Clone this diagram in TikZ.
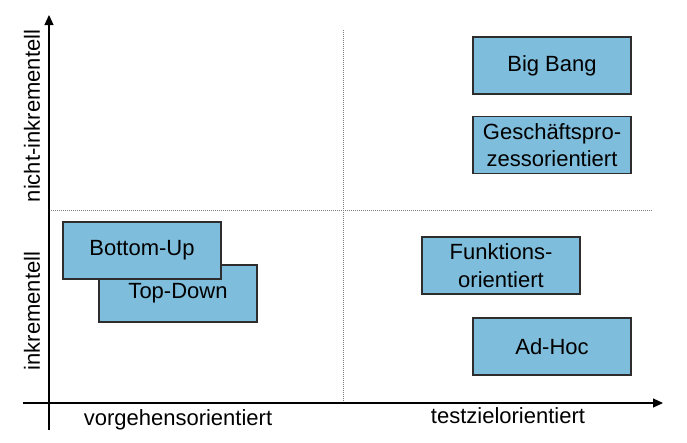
\documentclass[tikz,border=0pt]{standalone}
\usepackage{fontspec}
\setmainfont{Liberation Sans}
\usetikzlibrary{arrows.meta}
\definecolor{boxfill}{RGB}{127,189,220}
\definecolor{boxline}{RGB}{45,45,45}
\begin{document}
\begin{tikzpicture}[x=1pt,y=-1pt,
  box/.style={draw=boxline,line width=1.1pt,fill=boxfill,minimum width=158pt,minimum height=57pt,inner sep=0pt,align=center,font=\fontsize{22}{27.5}\selectfont},
  axis/.style={line width=1.2pt,-{Triangle[length=10pt,width=9pt]}},
  grid/.style={gray,line width=0.8pt,dash pattern=on 1pt off 1pt},
  lab/.style={font=\fontsize{22}{26}\selectfont,inner sep=0pt}]
\useasboundingbox (0,0) rectangle (687,442);
% axes
\coordinate (xs) at (23,403);
\coordinate (xe) at (663,403);
\coordinate (ys) at (49,430);
\coordinate (ye) at (49,15);
\coordinate (hs) at (49,210);
\coordinate (he) at (652,210);
\coordinate (vs) at (343,30);
\coordinate (ve) at (343,403);
\draw[grid] (hs) -- (he);
\draw[grid] (vs) -- (ve);
\draw[axis] (xs) -- (xe);
\draw[axis] (ys) -- (ye);
% boxes
\node[box] (td) at (178,293.5) {Top-Down};
\node[box] (bu) at (142,250.5) {Bottom-Up};
\node[box] (bb) at (552,65.5) {Big Bang};
\node[box] (gp) at (552,145) {Geschäftspro-\\zessorientiert};
\node[box] (fo) at (501,265.5) {Funktions-\\orientiert};
\node[box] (ah) at (552,346.5) {Ad-Hoc};
% labels
\node[lab,anchor=base] (xl1) at (178,425) {vorgehensorientiert};
\node[lab,anchor=base] (xl2) at (508,423) {testzielorientiert};
\node[lab,rotate=90] (yl1) at (32,116) {nicht-inkrementell};
\node[lab,rotate=90] (yl2) at (32,311) {inkrementell};
\end{tikzpicture}
\end{document}
